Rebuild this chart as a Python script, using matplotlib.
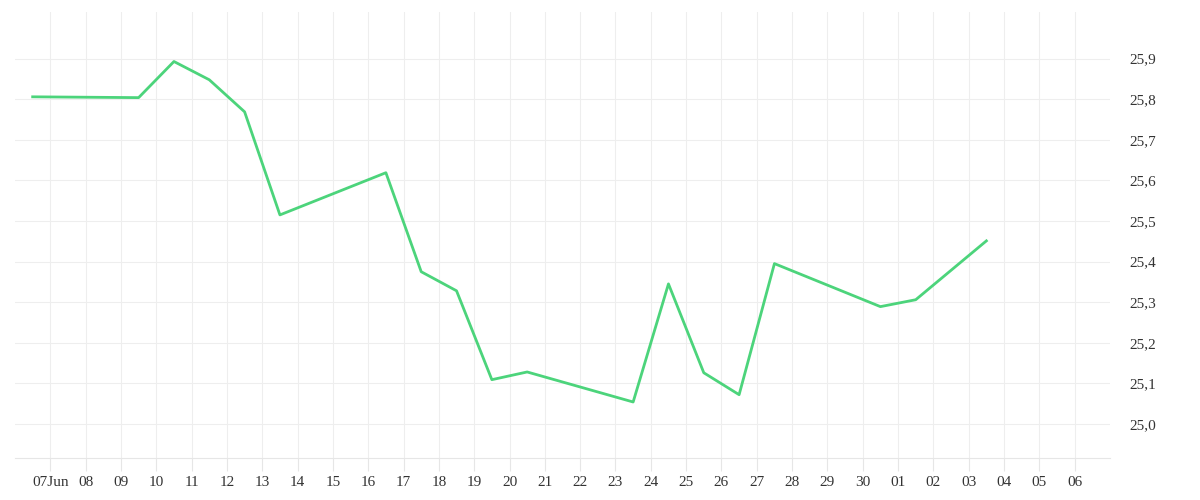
import matplotlib
matplotlib.use("Agg")
import matplotlib.pyplot as plt
import pandas as pd

dates = ["2024-06-06 12:00","2024-06-09 12:00","2024-06-10 12:00","2024-06-11 12:00","2024-06-12 12:00",
         "2024-06-13 12:00","2024-06-16 12:00","2024-06-17 12:00","2024-06-18 12:00","2024-06-19 12:00",
         "2024-06-20 12:00","2024-06-23 12:00","2024-06-24 12:00","2024-06-25 12:00","2024-06-26 12:00",
         "2024-06-27 12:00","2024-06-30 12:00","2024-07-01 12:00","2024-07-03 12:00"]
values = [25.806,25.804,25.893,25.848,25.769,25.515,25.619,25.375,25.328,25.109,
          25.128,25.054,25.345,25.126,25.072,25.395,25.289,25.306,25.451]
yticks = [25.0,25.1,25.2,25.3,25.4,25.5,25.6,25.7,25.8,25.9]

plt.rcParams['font.family'] = ['Liberation Serif', 'DejaVu Serif']
x = pd.to_datetime(dates)
fig = plt.figure(figsize=(12,5), dpi=100)
ax = fig.add_axes([0.0125, 0.084, 0.9125, 0.892])
ax.plot(x, values, color="#4cd47b", lw=2)
ax.set_xlim(pd.Timestamp("2024-06-06"), pd.Timestamp("2024-07-07"))
ax.set_ylim(24.916, 26.015)
ax.yaxis.tick_right()
ax.set_yticks(yticks)
ax.set_yticklabels([f"{v:.1f}".replace(".", ",") for v in yticks])
ticks = pd.date_range("2024-06-07","2024-07-06",freq="D")
ax.set_xticks(ticks)
ax.set_xticklabels([("07Jun" if i == 0 else t.strftime("%d")) for i, t in enumerate(ticks)])
ax.grid(True, color="#eeeeee", lw=0.8)
for s in ax.spines.values():
    s.set_visible(False)
ax.spines["bottom"].set_visible(True)
ax.spines["bottom"].set_color("#e6e6e6")
ax.tick_params(length=9, color="#e6e6e6", labelsize=11, labelcolor="#333333")
ax.tick_params(axis="x", pad=4)
ax.tick_params(axis="y", length=0, pad=14)
fig.savefig("out.png")
